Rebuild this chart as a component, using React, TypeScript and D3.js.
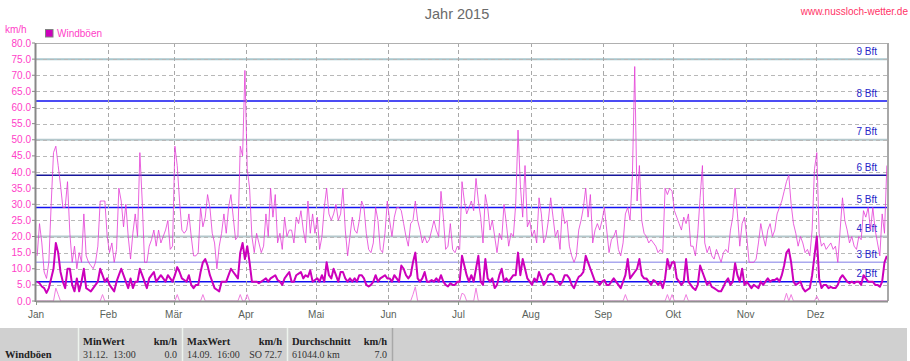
import React from 'react';
import * as d3 from 'd3';

const title = 'Jahr 2015';
const siteLabel = 'www.nussloch-wetter.de';
const unitLabel = 'km/h';
const seriesName = 'Windböen';
const monthLabels = ['Jan', 'Feb', 'Mär', 'Apr', 'Mai', 'Jun', 'Jul', 'Aug', 'Sep', 'Okt', 'Nov', 'Dez'];
const yTicks = [0, 5, 10, 15, 20, 25, 30, 35, 40, 45, 50, 55, 60, 65, 70, 75, 80];
const bftValues = [6, 12, 20, 29, 39, 50, 62, 75];
const bftLabels = ['2 Bft', '3 Bft', '4 Bft', '5 Bft', '6 Bft', '7 Bft', '8 Bft', '9 Bft'];

// daily maximum gust (thin line), km/h
const maxGust = [
  14, 24, 18, 9, 7, 12, 30, 46, 48, 42,
  36, 29, 29, 37, 21, 12, 17, 10, 15, 12,
  27, 14, 12, 11, 10, 12, 17, 31, 31, 31,
  20, 15, 18, 12, 16, 35, 31, 23, 30, 20,
  13, 21, 27, 20, 46, 31, 12, 12, 17, 19,
  22, 17, 22, 18, 20, 22, 25, 16, 17, 48,
  42, 31, 22, 21, 22, 27, 20, 14, 14, 15,
  29, 23, 26, 33, 29, 21, 18, 10, 17, 21,
  27, 21, 29, 33, 26, 19, 20, 48, 45, 71.5,
  41, 35, 20, 15, 21, 18, 15, 17, 27, 20,
  35, 26, 33, 18, 21, 16, 26, 20, 22, 22,
  18, 26, 24, 28, 22, 18, 31, 21, 27, 21,
  26, 16, 20, 29, 35, 27, 25, 27, 30, 25,
  27, 35, 22, 14, 20, 26, 22, 21, 25, 31,
  29, 21, 16, 15, 18, 29, 25, 16, 15, 21,
  31, 25, 20, 26, 29, 29, 28, 24, 20, 17,
  24, 25, 31, 25, 22, 18, 20, 18, 19, 22,
  25, 22, 20, 34, 26, 16, 17, 24, 16, 15,
  17, 16, 37, 31, 27, 29, 31, 28, 38, 31,
  26, 18, 33, 29, 22, 25, 20, 15, 21, 19,
  30, 24, 17, 21, 20, 30, 53, 36, 26, 42,
  23, 25, 20, 22, 18, 32, 27, 18, 20, 25,
  32, 26, 20, 22, 16, 29, 24, 25, 17, 14,
  12, 14, 22, 25, 29, 35, 26, 33, 18, 22,
  24, 22, 25, 29, 22, 15, 19, 20, 22, 16,
  14, 18, 27, 29, 25, 39, 72.7, 31, 42, 25,
  21, 20, 18, 19, 18, 17, 15, 16, 15, 35,
  33, 35, 34, 28, 26, 24, 22, 26, 24, 27,
  17, 17, 14, 21, 32, 42, 18, 15, 17, 14,
  13, 16, 14, 12, 15, 16, 15, 22, 26, 35,
  27, 17, 24, 26, 20, 12, 12, 12, 13, 18,
  24, 20, 17, 22, 24, 20, 22, 27, 29, 31,
  34, 37, 39, 30, 24, 21, 17, 20, 18, 15,
  16, 14, 22, 41, 46, 21, 17, 18, 16, 17,
  18, 16, 17, 12, 22, 32, 25, 22, 18, 20,
  17, 16, 20, 19, 28, 26, 29, 22, 29, 22,
  18, 14, 27, 21, 42,
];

// daily mean gust (thick line), km/h
const avgGust = [
  6, 5.5, 4.5, 4, 2.5, 4, 7, 10, 18, 15,
  9, 6, 4, 10, 10, 5, 3, 7, 3, 6,
  10, 4, 3.5, 3, 4, 5, 6, 10, 8, 6,
  7, 5, 4, 3, 6, 8, 10, 8, 6, 4,
  7, 4, 6, 6, 10, 8, 6, 4, 7, 8,
  9, 6, 7, 8, 7, 6, 8, 7, 6, 8,
  10.5, 9, 7, 6.5, 6, 8, 5, 4, 5, 5,
  9, 12, 13, 11, 8, 6, 4, 3.5, 3, 6,
  6, 6, 8, 10, 9, 8, 7, 15, 18, 13,
  17, 12, 6, 6, 6, 5.5, 6, 6.5, 7, 6,
  7, 7.5, 8, 6.5, 6, 5, 7, 8, 9, 6,
  6, 8, 8.5, 9, 7, 8, 7.5, 9.5, 6, 6.5,
  7, 6, 8, 6, 12, 8, 7, 10, 8, 6,
  9, 9, 7, 6, 7, 6, 7, 6, 8, 8,
  7, 5, 4.5, 5, 6, 8, 6, 7, 7.5, 8,
  7, 7, 6, 8, 7, 6, 11, 10, 8, 7,
  8, 12, 15, 7, 6, 7, 9, 6, 6, 6.5,
  6, 7, 6, 8, 6, 5, 4.5, 5.5, 5, 5,
  6, 6, 14, 11, 8, 6, 8, 6, 10, 14,
  6, 5, 13, 7, 6, 7, 4, 5, 8, 10,
  6, 7, 6, 7, 8, 8, 15, 8, 13, 10,
  7, 6, 5, 7, 6, 9, 7, 5, 6, 8,
  8.5, 8, 6, 6, 5, 6, 8, 8, 7, 5,
  4, 6, 7.5, 8, 9, 14, 12, 10, 8, 6,
  6, 5, 6, 6.5, 5, 5, 6, 7, 6, 5,
  4, 6, 8, 13, 7, 8, 9, 10, 13, 8,
  7, 7, 6, 5, 6.5, 6, 5, 6, 4, 7,
  13, 10, 12, 12, 7, 6, 5, 6, 13, 6,
  5, 4, 3.4, 5, 11, 9, 7, 5, 6, 4.4,
  4, 3.5, 3, 3, 4.4, 6, 7, 5, 6, 11.7,
  8, 6, 10, 5, 6, 5, 4, 5, 4.5, 4,
  6, 5, 6, 7, 6, 6.5, 6.5, 7, 6, 8,
  11, 15, 16, 12, 6, 5, 5.5, 6, 4, 3,
  3.5, 4, 8, 14, 20, 7, 4, 5, 5, 4,
  4.4, 4, 4, 5, 7, 8, 7, 6, 5.5, 6,
  5.5, 6, 6, 5, 8, 7, 6, 6, 6, 5,
  5, 4.4, 6, 12, 14,
];

// daily minimum gust (thin line near zero), km/h
const minGust = [
  0, 0, 0, 0, 0, 0, 0, 0, 4, 2,
  0, 0, 0, 0, 0, 0, 0, 0, 0, 0,
  0, 0, 0, 0, 0, 0, 0, 0, 2, 0,
  0, 0, 0, 0, 0, 0, 0, 0, 0, 0,
  0, 0, 0, 0, 0, 0, 0, 0, 0, 0,
  0, 0, 0, 0, 0, 0, 0, 0, 0, 0,
  2, 0, 0, 0, 0, 0, 0, 0, 0, 0,
  0, 2, 0, 0, 0, 0, 0, 0, 0, 0,
  0, 0, 0, 0, 0, 0, 0, 2, 0, 0,
  2, 0, 0, 0, 0, 0, 0, 0, 0, 0,
  0, 0, 0, 0, 0, 0, 0, 0, 0, 0,
  0, 0, 0, 0, 0, 0, 0, 0, 0, 0,
  0, 0, 0, 0, 0, 0, 0, 0, 0, 0,
  0, 0, 0, 0, 0, 0, 0, 0, 0, 0,
  0, 0, 0, 0, 0, 0, 0, 0, 0, 0,
  0, 0, 0, 0, 0, 0, 0, 0, 0, 0,
  0, 2, 4.4, 0, 0, 0, 0, 0, 0, 0,
  0, 0, 0, 0, 0, 0, 0, 0, 0, 0,
  0, 0, 2.4, 2, 0, 0, 0, 0, 4, 0,
  0, 0, 0, 0, 0, 0, 0, 0, 0, 0,
  0, 0, 0, 0, 0, 0, 0, 0, 0, 0,
  0, 0, 0, 0, 0, 0, 0, 0, 0, 0,
  0, 0, 0, 0, 0, 0, 0, 0, 0, 0,
  0, 0, 0, 0, 0, 0, 0, 0, 0, 0,
  0, 0, 0, 0, 0, 0, 0, 0, 0, 0,
  0, 0, 2, 0, 0, 0, 0, 0, 0, 0,
  0, 0, 0, 0, 0, 0, 0, 0, 0, 0,
  2, 0, 2, 0, 0, 0, 0, 0, 2, 0,
  0, 0, 0, 0, 0, 0, 0, 0, 0, 0,
  0, 0, 0, 0, 0, 0, 0, 0, 0, 0,
  0, 0, 0, 0, 0, 0, 0, 0, 0, 0,
  0, 0, 0, 0, 0, 0, 0, 0, 0, 0,
  0, 2.4, 0, 2, 0, 0, 0, 0, 0, 0,
  0, 0, 0, 0, 1.5, 0, 0, 0, 0, 0,
  0, 0, 0, 0, 0, 0, 0, 0, 0, 0,
  0, 0, 0, 0, 0, 0, 0, 0, 0, 0,
  0, 0, 0, 0, 0,
];

// statistics table
const tableRowLabel = 'Windböen';
const tableHeaders = ['MinWert', 'MaxWert', 'Durchschnitt'];
const tableUnits = ['km/h', 'km/h', 'km/h'];
const tableLeftValues = ['31.12.  13:00', '14.09.  16:00', '61044.0 km'];
const tableRightValues = ['0.0', 'SO 72.7', '7.0'];

// styles
const W = 910;
const H = 361;
const PL = 36, PR = 888, PT = 43, PB = 301;
const bftColors = ['#1010f0', '#aaa8ee', '#b4c8cc', '#1010f0', '#16169a', '#b4c8cc', '#1010f0', '#a8c6cc'];
const bftWidths = [1.5, 1.5, 2, 1.5, 1.5, 2, 1.5, 2];
const pink = '#ff40c8';
const sans = '"Liberation Sans", Arial, sans-serif';
const serif = '"Liberation Serif", "Times New Roman", serif';

export default function App() {
  const x = d3.scaleTime().domain([new Date(2015, 0, 1), new Date(2016, 0, 1)]).range([PL, PR]);
  const y = d3.scaleLinear().domain([0, 80]).range([PB, PT]);
  const dayDate = (i: number) => new Date(2015, 0, 1 + i, 12);
  const lineGen = d3.line<number>().x((_, i) => x(dayDate(i))).y((v) => y(v));
  const months = d3.timeMonth.range(new Date(2015, 0, 1), new Date(2016, 0, 1));

  const colX = [78, 182, 287, 392];

  return (
    <svg width={W} height={H} style={{ position: 'absolute', left: 0, top: 0, background: '#fff' }}
      xmlns="http://www.w3.org/2000/svg">
      <rect x={0} y={0} width={W} height={H} fill="#fff" />
      <text x={457} y={19} textAnchor="middle" fontFamily={sans} fontSize={14.5} fill="#6a6a6a">{title}</text>
      <text x={908} y={15} textAnchor="end" fontFamily={sans} fontSize={10} fill="#ff3366">{siteLabel}</text>
      <text x={5} y={33} fontFamily={sans} fontSize={10} fill={pink}>{unitLabel}</text>
      <rect x={45.5} y={29.5} width={7.5} height={7.5} fill="#cc00bb" stroke="#808080" strokeWidth={1} />
      <text x={57} y={37} fontFamily={sans} fontSize={10} fill={pink}>{seriesName}</text>

      {/* Beaufort reference lines */}
      {bftValues.map((v, i) => (
        <line key={'b' + i} x1={PL} x2={PR} y1={y(v)} y2={y(v)} stroke={bftColors[i]} strokeWidth={bftWidths[i]} />
      ))}
      {/* horizontal dashed grid */}
      {yTicks.slice(1, -1).map((v) => (
        <line key={'g' + v} x1={PL} x2={PR} y1={Math.round(y(v)) + 0.5} y2={Math.round(y(v)) + 0.5}
          stroke="#b8b8b8" strokeWidth={1} strokeDasharray="4,3" />
      ))}
      {/* vertical month grid */}
      {months.slice(1).map((m, i) => (
        <line key={'v' + i} x1={Math.round(x(m)) + 0.5} x2={Math.round(x(m)) + 0.5} y1={PT} y2={PB}
          stroke="#a8a8a8" strokeWidth={1} strokeDasharray="4,3" />
      ))}
      {bftValues.map((v, i) => (
        <text key={'bl' + i} x={877} y={y(v) - 4.5} textAnchor="end" fontFamily={sans} fontSize={10} fill="#2626c8">
          {bftLabels[i]}
        </text>
      ))}

      {/* data */}
      <path d={lineGen(maxGust) || ''} fill="none" stroke="#e43cd6" strokeWidth={1} strokeOpacity={0.8} />
      <path d={lineGen(minGust) || ''} fill="none" stroke="#f080e0" strokeWidth={1} />
      <path d={lineGen(avgGust) || ''} fill="none" stroke="#cc00bb" strokeWidth={2} strokeLinejoin="round" />

      {/* frame */}
      <line x1={PL} x2={PR} y1={PT + 0.5} y2={PT + 0.5} stroke="#b0b0b0" strokeWidth={1} />
      <line x1={PR} x2={PR} y1={PT} y2={PB} stroke="#a8a8a8" strokeWidth={2} />
      <line x1={PL} x2={PR} y1={PB + 0.5} y2={PB + 0.5} stroke="#909090" strokeWidth={2} />
      <line x1={PL - 0.5} x2={PL - 0.5} y1={PT} y2={PB + 1} stroke="#888888" strokeWidth={2} />

      {/* y axis */}
      {yTicks.map((v) => (
        <g key={'y' + v}>
          <line x1={PL - 4} x2={PL - 1} y1={y(v)} y2={y(v)} stroke="#888" strokeWidth={1} />
          <text x={31} y={y(v) + 3.5} textAnchor="end" fontFamily={sans} fontSize={10} fill={pink}>
            {v.toFixed(1)}
          </text>
        </g>
      ))}

      {/* x axis */}
      {months.map((m, i) => (
        <g key={'x' + i}>
          <line x1={Math.round(x(m)) + 0.5} x2={Math.round(x(m)) + 0.5} y1={PB + 1} y2={PB + 4} stroke="#8a9a8a" strokeWidth={1} />
          <text x={x(m)} y={318} textAnchor="middle" fontFamily={sans} fontSize={10} fill="#5a5f5a">
            {monthLabels[i]}
          </text>
        </g>
      ))}

      {/* statistics table */}
      <rect x={0} y={328} width={907} height={H - 328} fill="#d0d0d0" />
      {colX.map((cx, i) => (
        <line key={'c' + i} x1={cx + 0.5} x2={cx + 0.5} y1={328} y2={H}
          stroke={i < 3 ? '#eef4ee' : '#a8a8a8'} strokeWidth={1.5} />
      ))}
      <text x={5} y={358} fontFamily={serif} fontWeight="bold" fontSize={10.5} fill="#222">{tableRowLabel}</text>
      {tableHeaders.map((h, i) => (
        <g key={'t' + i}>
          <text x={colX[i] + 5} y={345} fontFamily={serif} fontWeight="bold" fontSize={10.5} fill="#222">{h}</text>
          <text x={colX[i + 1] - 5} y={345} textAnchor="end" fontFamily={serif} fontWeight="bold" fontSize={10.5} fill="#222">
            {tableUnits[i]}
          </text>
          <text x={colX[i] + 5} y={358} fontFamily={serif} fontSize={10} fill="#333" style={{ whiteSpace: 'pre' }}>
            {tableLeftValues[i]}
          </text>
          <text x={colX[i + 1] - 5} y={358} textAnchor="end" fontFamily={serif} fontSize={10} fill="#333">
            {tableRightValues[i]}
          </text>
        </g>
      ))}
    </svg>
  );
}
